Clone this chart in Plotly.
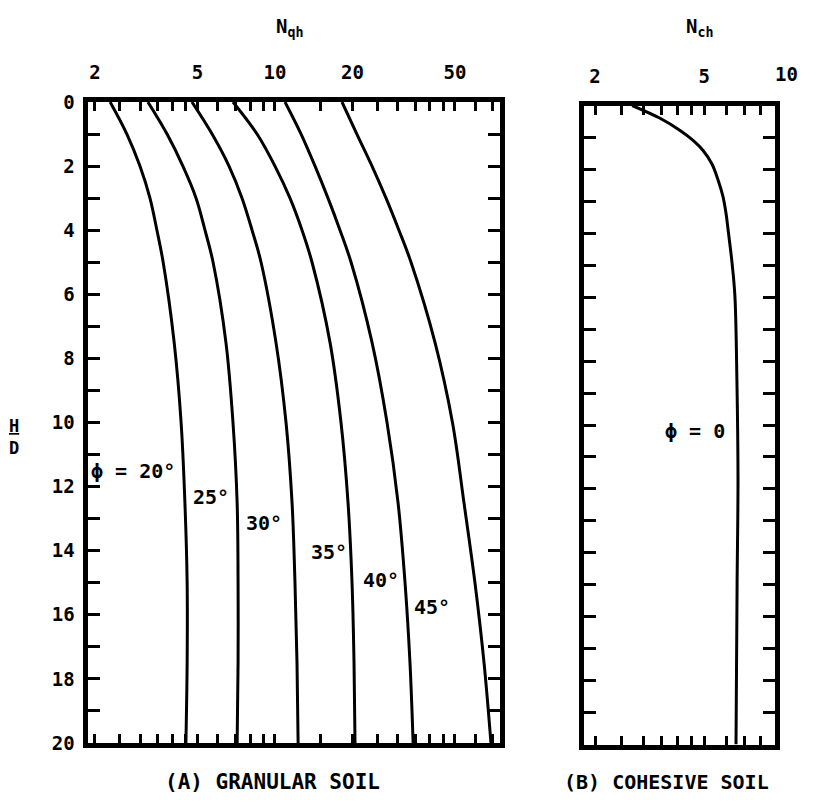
import numpy as np
import plotly.graph_objects as go

# ---------------- data ----------------
# Panel A: granular soil, N_qh versus H/D for several friction angles
h_a = [0, 1, 2, 3, 4, 5, 7.5, 10, 12.5, 15, 17.5, 20]
nqh_20 = [2.29, 2.66, 2.99, 3.27, 3.48, 3.68, 4.06, 4.32, 4.47, 4.56, 4.56, 4.51]
nqh_25 = [3.21, 3.81, 4.39, 4.94, 5.35, 5.75, 6.45, 6.87, 7.13, 7.19, 7.19, 7.13]
nqh_30 = [4.76, 5.70, 6.63, 7.45, 8.15, 8.83, 10.09, 11.04, 11.65, 11.96, 12.18, 12.3]
nqh_35 = [6.87, 8.52, 10.0, 11.44, 12.74, 13.93, 16.36, 18.05, 19.22, 19.92, 20.28, 20.46]
nqh_40 = [10.94, 12.63, 14.31, 16.07, 17.89, 19.75, 23.82, 27.24, 30.06, 32.0, 33.45, 34.4]
nqh_45 = [18.21, 20.8, 23.82, 27.0, 30.3, 33.76, 41.83, 48.9, 54.2, 59.8, 64.86, 69.0]
phi_labels = ["ϕ = 20°", "25°", "30°", "35°", "40°", "45°"]

# Panel B: cohesive soil, N_ch versus H/D (phi = 0)
h_b = [0, 0.40, 0.78, 1.09, 1.40, 1.83, 2.33, 2.86, 3.39, 3.88, 4.94, 5.96, 8.6, 11.7, 15, 20]
nch_0 = [2.73, 3.45, 4.08, 4.55, 4.94, 5.33, 5.61, 5.85, 6.0, 6.10, 6.31, 6.46, 6.57, 6.63, 6.58, 6.52]

# tick values / labels
xa_tickvals = [2, 2.5, 3, 3.5, 4, 4.5, 5, 6, 7, 8, 9, 10, 15, 20, 25, 30, 35, 40, 45, 50, 60, 70]
xa_labels = {2: "2", 5: "5", 10: "10", 20: "20", 50: "50"}
xb_tickvals = [2, 2.5, 3, 3.5, 4, 4.5, 5, 6, 7, 8]
xb_labels = {2: "2", 5: "5"}
y_tickvals = list(range(0, 21))

FONT = "DejaVu Sans Mono"
OFF = 8                 # the page body margin shifts the figure by 8 px
W, H = 806, 787


def fx(px):
    return (px - OFF) / W


def fy(py):
    return 1 - (py - OFF) / H


def tfont(size):
    return dict(family=FONT, size=size, color="black", weight="bold")


fig = go.Figure()
curves_a = [nqh_20, nqh_25, nqh_30, nqh_35, nqh_40, nqh_45]
for vals in curves_a:
    fig.add_trace(go.Scatter(x=vals, y=h_a, mode="lines", xaxis="x", yaxis="y",
                             line=dict(color="black", width=3, shape="spline", smoothing=1.0),
                             showlegend=False, hoverinfo="skip"))
fig.add_trace(go.Scatter(x=nch_0, y=h_b, mode="lines", xaxis="x2", yaxis="y2",
                         line=dict(color="black", width=3, shape="spline", smoothing=1.0),
                         showlegend=False, hoverinfo="skip"))

common_ax = dict(showline=True, linewidth=5, linecolor="black", mirror="allticks",
                 ticks="inside", tickcolor="black", tickwidth=2.5, showgrid=False,
                 zeroline=False, automargin=False, tickfont=tfont(19))

fig.update_layout(
    width=W, height=H,
    margin=dict(l=0, r=0, t=0, b=0, pad=0, autoexpand=False),
    paper_bgcolor="white", plot_bgcolor="white",
    xaxis=dict(type="log", domain=[fx(87.5), fx(499.5)], range=[0.272, 1.872],
               side="top", anchor="y", ticklen=9,
               tickvals=xa_tickvals, ticktext=[xa_labels.get(v, "") for v in xa_tickvals],
               ticklabelstandoff=10, **common_ax),
    yaxis=dict(domain=[fy(743), fy(102)], range=[20, 0], anchor="x", ticklen=12,
               tickvals=y_tickvals, ticktext=[str(v) if v % 2 == 0 else "" for v in y_tickvals],
               ticklabelstandoff=4, **common_ax),
    xaxis2=dict(type="log", domain=[fx(583.5), fx(774.5)], range=[0.2591, 0.9544],
                side="top", anchor="y2", ticklen=9,
                tickvals=xb_tickvals, ticktext=[xb_labels.get(v, "") for v in xb_tickvals],
                ticklabelstandoff=10, **common_ax),
    yaxis2=dict(domain=[fy(744.5), fy(105.5)], range=[20, 0], anchor="x2", ticklen=12,
                tickvals=y_tickvals, showticklabels=False, **common_ax),
)

center = dict(showarrow=False, xanchor="center", yanchor="middle")
# curve labels (panel A)
label_pos = [(2.81, 11.5), (5.65, 12.31), (9.07, 13.15), (16.2, 14.05), (25.8, 14.91), (40.7, 15.75)]
for txt, (lx, ly) in zip(phi_labels, label_pos):
    fig.add_annotation(x=np.log10(lx), y=ly, xref="x", yref="y", text=txt, font=tfont(20), **center)
# panel B label
fig.add_annotation(x=np.log10(4.62), y=10.2, xref="x2", yref="y2", text="ϕ = 0",
                   font=tfont(20), **center)
# "10" tick label of panel B (sits just beyond the frame)
fig.add_annotation(x=1.065, xref="x2 domain", y=fy(74), yref="paper", text="10",
                   font=tfont(19), **center)
# axis titles
fig.add_annotation(x=fx(289), y=fy(28), xref="paper", yref="paper", text="N<sub>qh</sub>",
                   font=tfont(19), **center)
fig.add_annotation(x=fx(699), y=fy(28), xref="paper", yref="paper", text="N<sub>ch</sub>",
                   font=tfont(19), **center)
fig.add_annotation(x=fx(14), y=fy(437), xref="paper", yref="paper", text="<u>H</u><br>D",
                   font=tfont(17), **center)
# panel captions
fig.add_annotation(x=fx(272), y=fy(782), xref="paper", yref="paper", text="(A) GRANULAR SOIL",
                   font=tfont(21), **center)
fig.add_annotation(x=fx(666), y=fy(782), xref="paper", yref="paper", text="(B) COHESIVE SOIL",
                   font=tfont(20), **center)

fig.write_html("out.html")
